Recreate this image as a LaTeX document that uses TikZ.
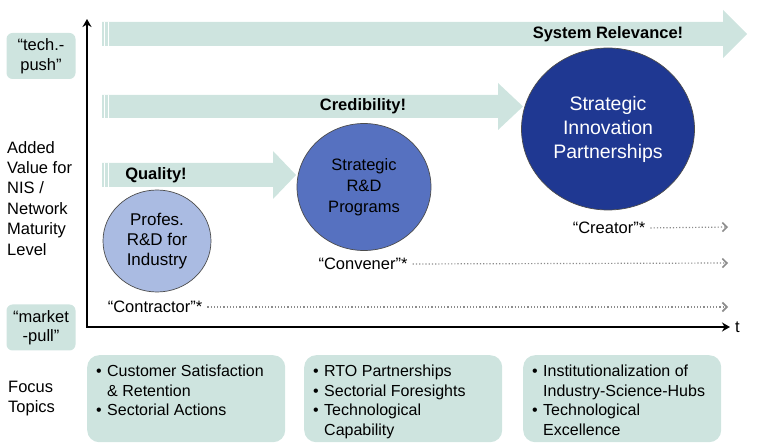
\documentclass[tikz,border=0pt]{standalone}
\usepackage{fontspec}
\setmainfont{Liberation Sans}
\usepackage{tikz}
\usetikzlibrary{shapes.geometric,arrows.meta}
\definecolor{bandgreen}{RGB}{206,228,223}
\definecolor{paleblue}{RGB}{170,187,226}
\definecolor{midblue}{RGB}{86,113,192}
\definecolor{navyblue}{RGB}{31,56,146}
\definecolor{dotgray}{RGB}{140,140,140}
\newcommand{\topicitem}{\makebox[11pt][l]{\textbullet}}
\newcommand{\topicindent}{\hspace*{11pt}}

\begin{document}
\begin{tikzpicture}[x=1pt,y=-1pt,
	band/.style={fill=bandgreen},
	stage/.style={ellipse,draw=black!70,line width=0.7pt,inner sep=0pt,align=center},
	role/.style={font=\fontsize{16.5}{20}\selectfont,inner sep=0pt},
	roleline/.style={dotgray,dotted,line width=1.2pt,shorten <=5pt,-{Straight Barb[length=4.5pt,width=9pt,line width=1.6pt]}},
	axis/.style={line width=1.5pt,{Stealth[length=8pt,width=9pt]}-{Stealth[length=8pt,width=9pt]}},
	push/.style={rounded corners=6pt,fill=bandgreen,minimum width=69pt,minimum height=46pt,align=center,inner sep=0pt,font=\fontsize{16.5}{19.5}\selectfont},
	topics/.style={rounded corners=12pt,fill=bandgreen,minimum width=198pt,minimum height=87pt,anchor=north west,inner sep=0pt},
	topictext/.style={anchor=north west,align=left,inner sep=0pt,font=\fontsize{16}{19.5}\selectfont}]
			\useasboundingbox (0,0) rectangle (758,446);
			% bands
			\foreach \top/\bot/\neck/\tip in {22/46/723/747, 95/118/498/523, 163/187/273/296}{
				\pgfmathsetmacro{\mid}{(\top+\bot)/2}
				\fill[band] (102,\top) -- (\neck,\top) -- (\neck,\top-12) -- (\tip,\mid)
					-- (\neck,\bot+12) -- (\neck,\bot) -- (102,\bot) -- cycle;
				\draw[white,line width=1.3pt] (104.3,\top) -- (104.3,\bot);
				\draw[white,line width=1.3pt] (108.8,\top) -- (108.8,\bot);
			}
			\node[font=\bfseries\fontsize{16.5}{20}\selectfont] (relevance) at (608,34) {System Relevance!};
			\node[font=\bfseries\fontsize{16.5}{20}\selectfont] (credibility) at (363,106) {Credibility!};
			\node[font=\bfseries\fontsize{16.5}{20}\selectfont] (quality) at (156,175) {Quality!};
			% stages
			\node[stage,fill=paleblue,minimum width=108pt,minimum height=102pt,font=\fontsize{17}{20}\selectfont] (profes) at (157,241) {Profes.\\R\&D for\\Industry};
			\node[stage,fill=midblue,minimum width=134pt,minimum height=127pt,font=\fontsize{16.5}{21}\selectfont] (programs) at (364,187) {Strategic\\R\&D\\Programs};
			\node[stage,fill=navyblue,text=white,minimum width=173pt,minimum height=162pt,font=\fontsize{19.5}{24}\selectfont] (partnerships) at (608,129) {Strategic\\Innovation\\Partnerships};
			% roles
			\node[role] (contractor) at (155,307) {“Contractor”*};
			\node[role] (convener) at (363,264) {“Convener”*};
			\node[role] (creator) at (609,228) {“Creator”*};
			\coordinate (contractorEnd) at (728,307);
			\coordinate (convenerEnd) at (728,263);
			\coordinate (creatorEnd) at (728,227);
			\draw[roleline] (contractor.east) -- (contractorEnd);
			\draw[roleline] (convener.east) -- (convenerEnd);
			\draw[roleline] (creator.east) -- (creatorEnd);
			% axes
			\coordinate (origin) at (87,327);
			\coordinate (yEnd) at (87,19);
			\coordinate (tEnd) at (730,327);
			\draw[axis] (yEnd) -- (origin) -- (tEnd);
			\node[role,anchor=west] (tlabel) at (735,327) {t};
			% left side
			\node[push] (techpush) at (41,56) {“tech.-\\push”};
			\node[push] (marketpull) at (41,327.5) {“market\\-pull”};
			\node[role,align=left,anchor=north west,font=\fontsize{16.5}{20.4}\selectfont] (addedvalue) at (7,141) {Added\\Value for\\NIS /\\Network\\Maturity\\Level};
			\node[role,align=left,anchor=north west,font=\fontsize{16.5}{20}\selectfont] (focus) at (8,381) {Focus\\Topics};
			% focus topics
			\node[topics] (topicsA) at (87,355) {};
			\node[topics] (topicsB) at (304,355) {};
			\node[topics] (topicsC) at (523,355) {};
			\node[topictext] (textA) at ([xshift=9pt,yshift=-10pt]topicsA.north west) {\topicitem Customer Satisfaction\\\topicindent\& Retention\\\topicitem Sectorial Actions};
			\node[topictext] (textB) at ([xshift=9pt,yshift=-10pt]topicsB.north west) {\topicitem RTO Partnerships\\\topicitem Sectorial Foresights\\\topicitem Technological\\\topicindent Capability};
			\node[topictext] (textC) at ([xshift=9pt,yshift=-10pt]topicsC.north west) {\topicitem Institutionalization of\\\topicindent Industry-Science-Hubs\\\topicitem Technological\\\topicindent Excellence};
		\end{tikzpicture}
\end{document}
